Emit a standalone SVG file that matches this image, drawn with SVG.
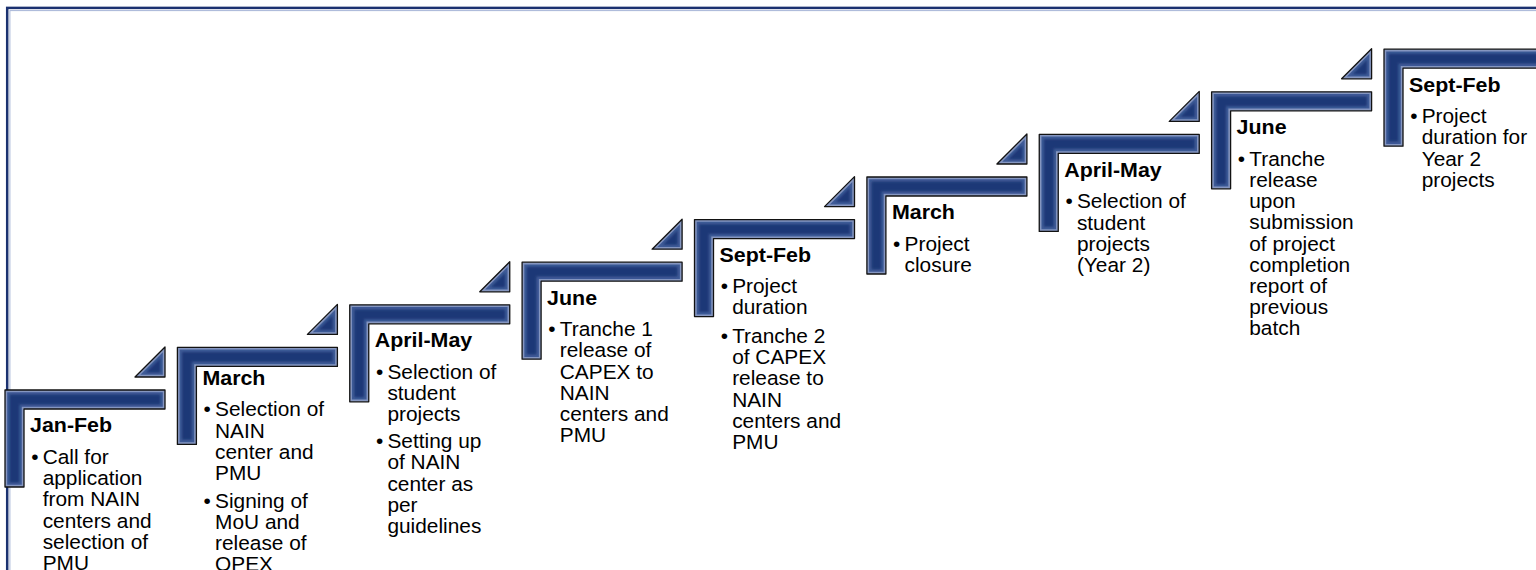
<svg xmlns="http://www.w3.org/2000/svg" width="1536" height="570" viewBox="0 0 1536 570">
  <defs>
    <style>
      .hd { font-family: "Liberation Sans", Arial, sans-serif; font-size: 20px; font-weight: bold; fill: #000; }
      .tx { font-family: "Liberation Sans", Arial, sans-serif; font-size: 19.5px; fill: #000; }
      .edge { fill: #8596c0; stroke: #121212; stroke-width: 1.3; stroke-linejoin: round; }
      .mid { fill: #3f5b97; }
      .core { fill: #1e3977; filter: url(#soft); }
    </style>
    <filter id="soft" x="-10%" y="-10%" width="120%" height="120%">
      <feGaussianBlur stdDeviation="0.9"/>
    </filter>
    <!-- bevelled L-shaped stair step, origin at its outer top-left corner -->
    <g id="stair">
      <path class="edge" d="M0,0 H160 V19 H19 V97 H0 Z"/>
      <path class="mid" d="M2.2,2.2 H157.8 V16.8 H16.8 V94.8 H2.2 Z"/>
      <path class="core" d="M4.6,4.6 H155.4 V14.4 H14.4 V92.4 H4.6 Z"/>
    </g>
    <!-- small step-up arrow wedge above the right end of a step -->
    <g id="wedge">
      <path class="edge" d="M130,-13 L160,-43 L160,-13 Z"/>
      <path class="mid" d="M135.3,-15.2 L157.8,-37.7 L157.8,-15.2 Z"/>
      <path class="core" d="M140.9,-17.5 L155.4,-32.1 L155.4,-17.5 Z"/>
    </g>
  </defs>

  <rect width="1536" height="570" fill="#ffffff"/>

  <!-- outer frame -->
  <rect x="7.2" y="7.9" width="1600" height="700" fill="none" stroke="#1b3170" stroke-width="2.5"/>
  <rect x="9.9" y="10.6" width="1600" height="700" fill="none" stroke="#a7b6d8" stroke-width="1"/>

  <g id="connectors"/>

  <g id="step-1">
    <use href="#stair" x="5" y="390"/>
    <use href="#wedge" x="5" y="390"/>
    <g transform="translate(5,0) scale(1.07,1)">
      <text class="hd" x="23.4" y="432.5">Jan-Feb</text>
      <text class="tx" x="24.5" y="464">•</text>
      <text class="tx">
        <tspan x="35.2" y="464">Call for</tspan>
        <tspan x="35.2" y="485.2">application</tspan>
        <tspan x="35.2" y="506.4">from NAIN</tspan>
        <tspan x="35.2" y="527.6">centers and</tspan>
        <tspan x="35.2" y="548.8">selection of</tspan>
        <tspan x="35.2" y="570">PMU</tspan>
      </text>
    </g>
  </g>

  <g id="step-2">
    <use href="#stair" x="177.4" y="347.4"/>
    <use href="#wedge" x="177.4" y="347.4"/>
    <g transform="translate(177.4,0) scale(1.07,1)">
      <text class="hd" x="23.4" y="385.5">March</text>
      <text class="tx" x="24.5" y="416.5">•</text>
      <text class="tx">
        <tspan x="35.2" y="416.5">Selection of</tspan>
        <tspan x="35.2" y="437.6">NAIN</tspan>
        <tspan x="35.2" y="458.7">center and</tspan>
        <tspan x="35.2" y="479.8">PMU</tspan>
      </text>
      <text class="tx" x="24.5" y="508">•</text>
      <text class="tx">
        <tspan x="35.2" y="508">Signing of</tspan>
        <tspan x="35.2" y="529.1">MoU and</tspan>
        <tspan x="35.2" y="550.2">release of</tspan>
        <tspan x="35.2" y="571.3">OPEX</tspan>
      </text>
    </g>
  </g>

  <g id="step-3">
    <use href="#stair" x="349.75" y="304.8"/>
    <use href="#wedge" x="349.75" y="304.8"/>
    <g transform="translate(349.75,0) scale(1.07,1)">
      <text class="hd" x="23.4" y="347.3">April-May</text>
      <text class="tx" x="24.5" y="378.8">•</text>
      <text class="tx">
        <tspan x="35.2" y="378.8">Selection of</tspan>
        <tspan x="35.2" y="400">student</tspan>
        <tspan x="35.2" y="421.2">projects</tspan>
      </text>
      <text class="tx" x="24.5" y="448.2">•</text>
      <text class="tx">
        <tspan x="35.2" y="448.2">Setting up</tspan>
        <tspan x="35.2" y="469.4">of NAIN</tspan>
        <tspan x="35.2" y="490.6">center as</tspan>
        <tspan x="35.2" y="511.8">per</tspan>
        <tspan x="35.2" y="533">guidelines</tspan>
      </text>
    </g>
  </g>

  <g id="step-4">
    <use href="#stair" x="522.1" y="262.2"/>
    <use href="#wedge" x="522.1" y="262.2"/>
    <g transform="translate(522.1,0) scale(1.07,1)">
      <text class="hd" x="23.4" y="304.7">June</text>
      <text class="tx" x="24.5" y="336.2">•</text>
      <text class="tx">
        <tspan x="35.2" y="336.2">Tranche 1</tspan>
        <tspan x="35.2" y="357.4">release of</tspan>
        <tspan x="35.2" y="378.6">CAPEX to</tspan>
        <tspan x="35.2" y="399.8">NAIN</tspan>
        <tspan x="35.2" y="421">centers and</tspan>
        <tspan x="35.2" y="442.2">PMU</tspan>
      </text>
    </g>
  </g>

  <g id="step-5">
    <use href="#stair" x="694.5" y="219.6"/>
    <use href="#wedge" x="694.5" y="219.6"/>
    <g transform="translate(694.5,0) scale(1.07,1)">
      <text class="hd" x="23.4" y="262.1">Sept-Feb</text>
      <text class="tx" x="24.5" y="292.6">•</text>
      <text class="tx">
        <tspan x="35.2" y="292.6">Project</tspan>
        <tspan x="35.2" y="313.8">duration</tspan>
      </text>
      <text class="tx" x="24.5" y="343">•</text>
      <text class="tx">
        <tspan x="35.2" y="343">Tranche 2</tspan>
        <tspan x="35.2" y="364.2">of CAPEX</tspan>
        <tspan x="35.2" y="385.4">release to</tspan>
        <tspan x="35.2" y="406.6">NAIN</tspan>
        <tspan x="35.2" y="427.8">centers and</tspan>
        <tspan x="35.2" y="449">PMU</tspan>
      </text>
    </g>
  </g>

  <g id="step-6">
    <use href="#stair" x="866.9" y="177"/>
    <use href="#wedge" x="866.9" y="177"/>
    <g transform="translate(866.9,0) scale(1.07,1)">
      <text class="hd" x="23.4" y="219.5">March</text>
      <text class="tx" x="24.5" y="251">•</text>
      <text class="tx">
        <tspan x="35.2" y="251">Project</tspan>
        <tspan x="35.2" y="272.2">closure</tspan>
      </text>
    </g>
  </g>

  <g id="step-7">
    <use href="#stair" x="1039.25" y="134.4"/>
    <use href="#wedge" x="1039.25" y="134.4"/>
    <g transform="translate(1039.25,0) scale(1.07,1)">
      <text class="hd" x="23.4" y="176.9">April-May</text>
      <text class="tx" x="24.5" y="208.4">•</text>
      <text class="tx">
        <tspan x="35.2" y="208.4">Selection of</tspan>
        <tspan x="35.2" y="229.6">student</tspan>
        <tspan x="35.2" y="250.8">projects</tspan>
        <tspan x="35.2" y="272">(Year 2)</tspan>
      </text>
    </g>
  </g>

  <g id="step-8">
    <use href="#stair" x="1211.6" y="91.8"/>
    <use href="#wedge" x="1211.6" y="91.8"/>
    <g transform="translate(1211.6,0) scale(1.07,1)">
      <text class="hd" x="23.4" y="134.3">June</text>
      <text class="tx" x="24.5" y="165.8">•</text>
      <text class="tx">
        <tspan x="35.2" y="165.8">Tranche</tspan>
        <tspan x="35.2" y="187">release</tspan>
        <tspan x="35.2" y="208.2">upon</tspan>
        <tspan x="35.2" y="229.4">submission</tspan>
        <tspan x="35.2" y="250.6">of project</tspan>
        <tspan x="35.2" y="271.8">completion</tspan>
        <tspan x="35.2" y="293">report of</tspan>
        <tspan x="35.2" y="314.2">previous</tspan>
        <tspan x="35.2" y="335.4">batch</tspan>
      </text>
    </g>
  </g>

  <g id="step-9">
    <use href="#stair" x="1384" y="49.2"/>
    <g transform="translate(1384,0) scale(1.07,1)">
      <text class="hd" x="23.4" y="91.7">Sept-Feb</text>
      <text class="tx" x="24.5" y="123.2">•</text>
      <text class="tx">
        <tspan x="35.2" y="123.2">Project</tspan>
        <tspan x="35.2" y="144.4">duration for</tspan>
        <tspan x="35.2" y="165.6">Year 2</tspan>
        <tspan x="35.2" y="186.8">projects</tspan>
      </text>
    </g>
  </g>
</svg>
